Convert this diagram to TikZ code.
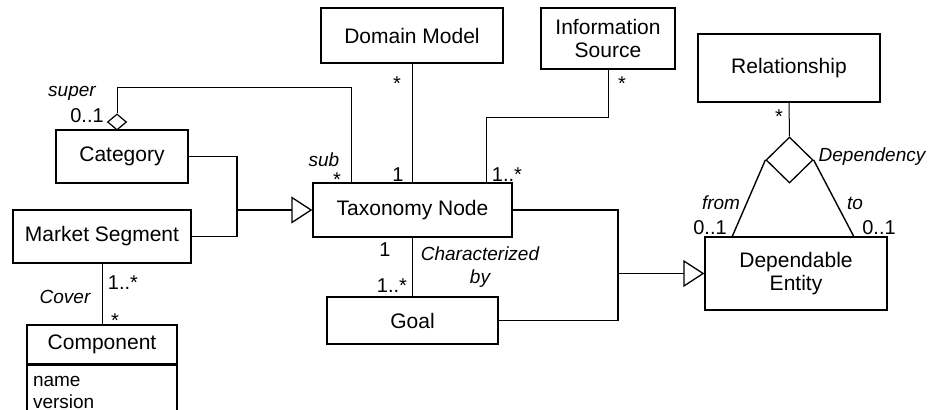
\documentclass[tikz,border=0pt]{standalone}
\usepackage{fontspec}
\setmainfont{Liberation Sans}
\usetikzlibrary{positioning,shapes.geometric,arrows.meta}

\newcommand\clsfont{\fontsize{21}{23}\selectfont}
\newcommand\attrfont{\fontsize{19}{22}\selectfont}
\newcommand\multfont{\fontsize{20}{22}\selectfont}
\newcommand\rolefont{\fontsize{19}{23}\selectfont\itshape}

\tikzset{
  cls/.style={draw, line width=1.4pt, font=\clsfont, align=center, inner sep=0pt},
  attr/.style={draw, line width=1.4pt, font=\attrfont, align=left, inner xsep=6pt, inner ysep=11pt},
  mult/.style={font=\multfont, inner sep=0pt},
  role/.style={font=\rolefont, align=center, inner sep=0pt},
  assoc/.style={line width=1pt},
  gen/.style={line width=1.3pt, -{Triangle[open,length=21pt,width=27pt]}},
  aggr/.style={draw, shape=diamond, fill=white, inner sep=0pt, line width=1.2pt},
}

\begin{document}
\begin{tikzpicture}[x=1pt,y=-1pt]
\clip (0,0) rectangle (930,410);
%
% classes
\node[cls, minimum width=182pt, minimum height=55pt] (dm) at (412,35.5) {Domain Model};
\node[cls, minimum width=134pt, minimum height=61pt] (is) at (608,38.5) {Information\\Source};
\node[cls, minimum width=182pt, minimum height=68pt] (rel) at (789,68) {Relationship};
\node[cls, minimum width=132pt, minimum height=53pt] (cat) at (122,156.5) {Category};
\node[cls, minimum width=178pt, minimum height=53pt] (ms) at (102,236.5) {Market Segment};
\node[cls, minimum width=199pt, minimum height=54pt] (tn) at (412.5,210) {Taxonomy Node};
\node[cls, minimum width=171pt, minimum height=47pt] (goal) at (412.5,320.5) {Goal};
\node[cls, minimum width=182pt, minimum height=73pt] (de) at (796,273.5) {Dependable\\Entity};
\node[cls, minimum width=150pt, minimum height=39pt] (comp) at (102,344.5) {Component};
\node[attr, text width=138pt, below=0pt of comp] (compattr) {name\\version};
%
% diamonds
\node[aggr, minimum width=19pt, minimum height=16pt] (sup) at (117,122) {};
\node[aggr, minimum width=47pt, minimum height=46pt, line width=1.3pt] (dep) at (789.5,160) {};
%
% generalisations
\coordinate (g1) at (237,210);
\coordinate (g2) at (618,273.5);
\draw[line width=1.3pt] (cat.east) -| (g1);
\draw[line width=1.3pt] (ms.east) -| (g1);
\draw[gen] (g1) -- (tn.west);
\draw[line width=1.3pt] (tn.east) -| (g2);
\draw[line width=1.3pt] (goal.east) -| (g2);
\draw[gen] (g2) -- (de.west);
%
% associations
\coordinate (subtop) at (351,87);
\draw[assoc] (sup.north) |- (subtop) -- (subtop |- tn.north);
\draw[assoc] (tn.north) -- (tn.north |- dm.south);
\coordinate (isbend) at (486,117);
\draw[assoc] (is.south) |- (isbend) -- (isbend |- tn.north);
\draw[assoc] (tn.south) -- (goal.north);
\draw[assoc] (ms.south) -- (comp.north);
\draw[assoc] (rel.south) -- (dep.north);
\draw[line width=1.4pt] (dep.west) -- ([xshift=28pt]de.north west);
\draw[line width=1.4pt] (dep.east) -- ([xshift=-34pt]de.north east);
%
% roles and multiplicities
\node[role] (lsuper) at (72,93) {super};
\node[mult] (msuper) at (87,116) {0..1};
\node[role] (lsub) at (324,160) {sub};
\node[mult] (msub) at (337,180) {*};
\node[mult] (mdm) at (397,84) {*};
\node[mult] (mdmtn) at (398,175) {1};
\node[mult] (mis) at (622,84) {*};
\node[mult] (mistn) at (507,175) {1..*};
\node[mult] (mtngoal) at (385,250) {1};
\node[mult] (mgoal) at (392,286) {1..*};
\node[role] (lchar) at (480,267) {Characterized\\by};
\node[mult] (mrel) at (779,117) {*};
\node[role] (ldep) at (872,157) {Dependency};
\node[role] (lfrom) at (721,203) {from};
\node[mult] (mfrom) at (710,228) {0..1};
\node[role] (lto) at (855,203) {to};
\node[mult] (mto) at (879,228) {0..1};
\node[mult] (mms) at (123,283) {1..*};
\node[role] (lcover) at (65,297) {Cover};
\node[mult] (mcomp) at (115,321) {*};
\end{tikzpicture}
\end{document}
